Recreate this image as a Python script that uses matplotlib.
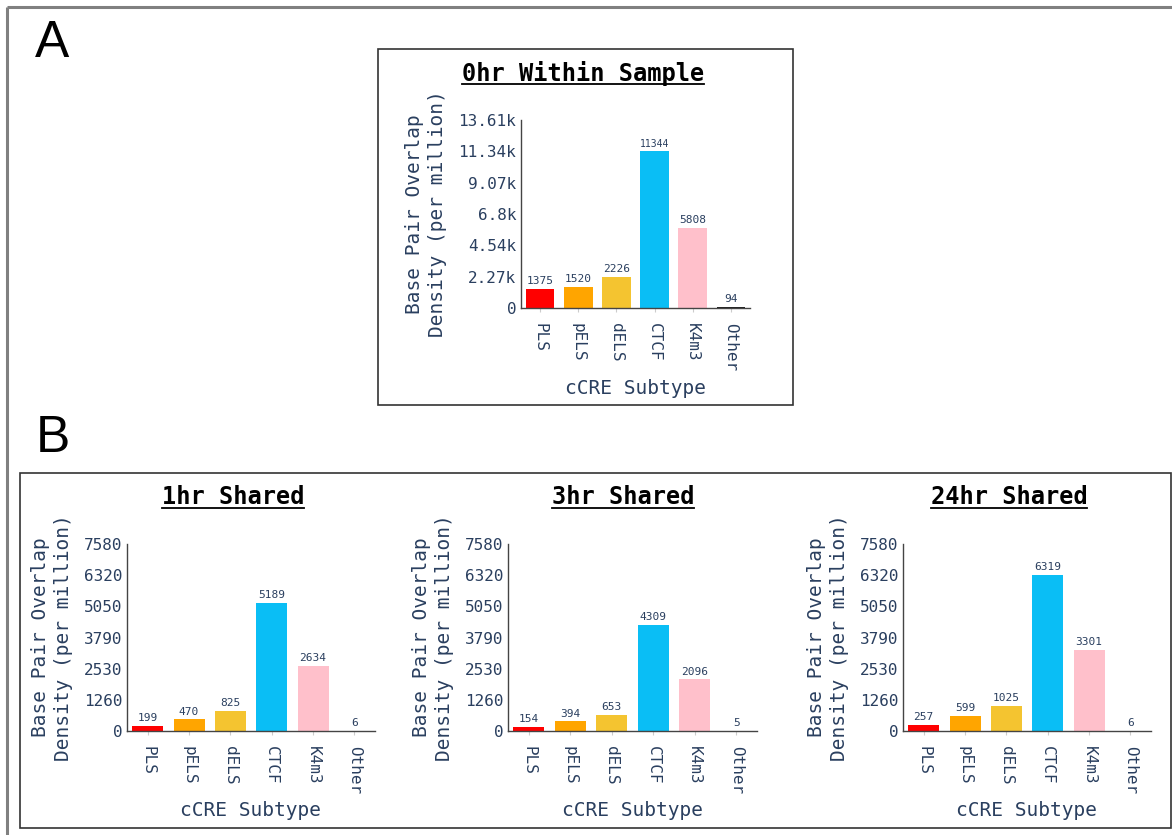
import matplotlib.pyplot as plt
import matplotlib.patches as patches
import numpy as np

# cCRE subtype overlap density
categories = ["PLS", "pELS", "dELS", "CTCF", "K4m3", "Other"]
bar_colors = ["#FF0000", "#FFA500", "#F4C430", "#0ABEF5", "#FFC0CB", "#222222"]

vals_0hr = [1375, 1520, 2226, 11344, 5808, 94]
vals_1hr = [199, 470, 825, 5189, 2634, 6]
vals_3hr = [154, 394, 653, 4309, 2096, 5]
vals_24hr = [257, 599, 1025, 6319, 3301, 6]

ticks_0hr = ["0", "2.27k", "4.54k", "6.8k", "9.07k", "11.34k", "13.61k"]
ticks_shared = ["0", "1260", "2530", "3790", "5050", "6320", "7580"]

W, H = 1172, 835
TEXT = '#2a3f5f'
MONO = 'DejaVu Sans Mono'

fig = plt.figure(figsize=(W / 100, H / 100), dpi=100)

# full-figure canvas in pixel coordinates for frames and free text
canvas = fig.add_axes([0, 0, 1, 1])
canvas.set_xlim(0, W)
canvas.set_ylim(H, 0)
canvas.axis('off')


def add_panel(left, top, right, bottom, values, tick_labels, ymax,
              title, title_x, title_y, underline_y, xlabel_y):
    ax = fig.add_axes([left / W, 1 - bottom / H, (right - left) / W, (bottom - top) / H])
    ax.set_facecolor('none')
    x = np.arange(len(categories))
    ax.bar(x, values, width=0.75, color=bar_colors)
    for xi, v in zip(x, values):
        ax.annotate(str(v), (xi, v), xytext=(0, 2), textcoords='offset points',
                    ha='center', va='bottom', fontsize=7 if v >= 10000 else 8,
                    color=TEXT, family=MONO)
    ax.set_xlim(-0.5, 5.5)
    ax.set_ylim(0, ymax)
    ax.set_yticks(np.linspace(0, ymax, len(tick_labels)))
    ax.set_yticklabels(tick_labels, family=MONO, fontsize=11.5, color=TEXT)
    ax.set_xticks(x)
    ax.set_xticklabels(categories, rotation=-90, family=MONO, fontsize=11.5, color=TEXT)
    ax.tick_params(axis='y', length=0, pad=3.5)
    ax.tick_params(axis='x', length=3, color='#cccccc', pad=8)
    for s in ['top', 'right']:
        ax.spines[s].set_visible(False)
    for s in ['left', 'bottom']:
        ax.spines[s].set_color('#444444')
        ax.spines[s].set_linewidth(1)

    # y label (two lines), x label, underlined title
    canvas.text(left - (95 if ymax > 10000 else 75), (top + bottom) / 2,
                "Base Pair Overlap\nDensity (per million)", rotation=90,
                ha='center', va='center', multialignment='center',
                fontsize=14, family=MONO, color=TEXT, linespacing=1.3)
    canvas.text((left + right) / 2, xlabel_y, "cCRE Subtype", ha='center', va='center',
                fontsize=14, family=MONO, color=TEXT)
    t = canvas.text(title_x, title_y, title, ha='center', va='center',
                    fontsize=17, family=MONO, fontweight='bold', color='black')
    fig.canvas.draw()
    bb = t.get_window_extent(renderer=fig.canvas.get_renderer())
    canvas.plot([bb.x0, bb.x1], [underline_y, underline_y], color='black', lw=1.3)
    return ax


# outer frame (top and left visible)
canvas.plot([7, W], [7, 7], color='#808080', lw=2.2, solid_capstyle='butt')
canvas.plot([7, 7], [7, H], color='#808080', lw=2.2, solid_capstyle='butt')

# panel boxes
canvas.add_patch(patches.Rectangle((378, 49), 415, 356, fill=False, ec='#333333', lw=1.2))
canvas.add_patch(patches.Rectangle((20, 473), 1151, 355, fill=False, ec='#333333', lw=1.2))

# panel letters
canvas.text(35, 57, "A", fontsize=37, family='Liberation Sans', va='baseline', ha='left')
canvas.text(36, 452, "B", fontsize=37, family='Liberation Sans', va='baseline', ha='left')

shared_max = 1.2 * max(vals_24hr)

add_panel(521, 120, 750, 308, vals_0hr, ticks_0hr, 1.2 * max(vals_0hr),
          "0hr Within Sample", 583, 73, 84, 388)
add_panel(127, 544, 375, 731, vals_1hr, ticks_shared, shared_max,
          "1hr Shared", 233, 497, 508, 810)
add_panel(508, 544, 757, 731, vals_3hr, ticks_shared, shared_max,
          "3hr Shared", 623, 497, 508, 810)
add_panel(903, 544, 1151, 731, vals_24hr, ticks_shared, shared_max,
          "24hr Shared", 1009, 497, 508, 810)

fig.savefig("out.png", dpi=100)
